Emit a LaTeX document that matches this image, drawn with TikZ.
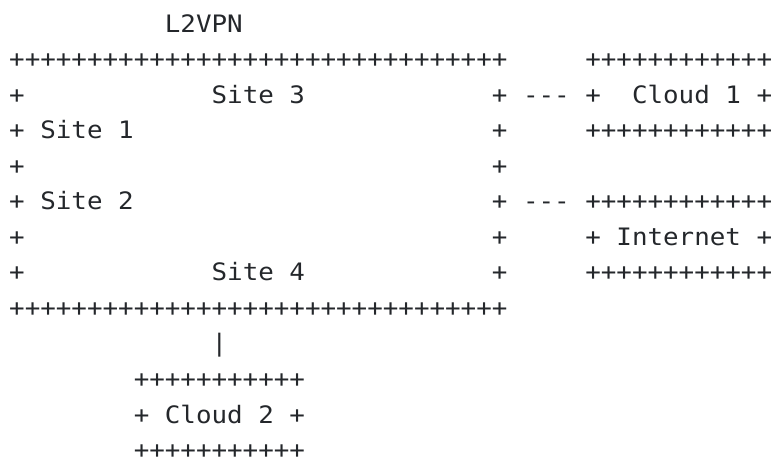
\documentclass[tikz,border=0pt]{standalone}
\usepackage{fontspec}
\newfontfamily\asciifont[FakeStretch=1.0776]{DejaVu Sans Mono}
\definecolor{ink}{HTML}{24272B}

% character grid: column pitch and row pitch, in pt
\newcommand\colx[1]{9.2+15.57*#1}
\newcommand\rowy[1]{-(32+35.55*#1)}
% \cell{name}{column}{row}{text}
\newcommand\cell[4]{\node[cell] (#1) at ({\colx{#2}},{\rowy{#3}}) {#4};}

\begin{document}
\begin{tikzpicture}[x=1pt,y=1pt,
  cell/.style={anchor=base west,inner sep=0pt,outer sep=0pt,text=ink,
    font=\asciifont\fontsize{24}{28}\selectfont}]
\useasboundingbox (0,0) rectangle (773,-456);
\clip (0,0) rectangle (773,-456);

% title
\cell{title}{10}{0}{L2VPN}

% L2VPN box
\cell{vpnTop}{0}{1}{++++++++++++++++++++++++++++++++}
\cell{vpnBot}{0}{8}{++++++++++++++++++++++++++++++++}
\foreach \r in {2,...,7}{
  \cell{vpnL\r}{0}{\r}{+}
  \cell{vpnR\r}{31}{\r}{+}
}
\cell{site3}{13}{2}{Site}
\cell{site3n}{18}{2}{3}
\cell{site1}{2}{3}{Site}
\cell{site1n}{7}{3}{1}
\cell{site2}{2}{5}{Site}
\cell{site2n}{7}{5}{2}
\cell{site4}{13}{7}{Site}
\cell{site4n}{18}{7}{4}

% links to the right-hand boxes
\cell{linkA}{33}{2}{---}
\cell{linkB}{33}{5}{---}

% Cloud 1 box
\cell{c1Top}{37}{1}{++++++++++++}
\cell{c1L}{37}{2}{+}
\cell{c1}{40}{2}{Cloud}
\cell{c1n}{46}{2}{1}
\cell{c1R}{48}{2}{+}
\cell{c1Bot}{37}{3}{++++++++++++}

% Internet box
\cell{netTop}{37}{5}{++++++++++++}
\cell{netL}{37}{6}{+}
\cell{net}{39}{6}{Internet}
\cell{netR}{48}{6}{+}
\cell{netBot}{37}{7}{++++++++++++}

% link down to Cloud 2
\cell{linkC}{13}{9}{|}

% Cloud 2 box
\cell{c2Top}{8}{10}{+++++++++++}
\cell{c2L}{8}{11}{+}
\cell{c2}{10}{11}{Cloud}
\cell{c2n}{16}{11}{2}
\cell{c2R}{18}{11}{+}
\cell{c2Bot}{8}{12}{+++++++++++}
\end{tikzpicture}
\end{document}
